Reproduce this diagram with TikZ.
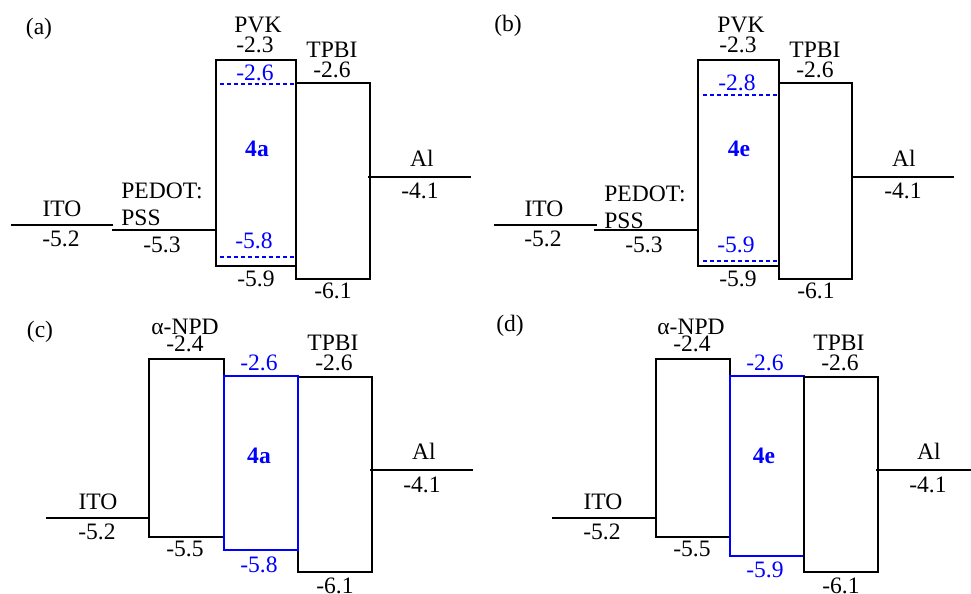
\documentclass[tikz,border=0pt]{standalone}
\usepackage{fontspec}
\setmainfont{Liberation Serif}
\newfontfamily\tnr{Liberation Serif}
\tikzset{
  lvl/.style={line width=1.2pt},
  band/.style={draw,line width=0.6pt},
  bband/.style={draw=blue,line width=0.6pt},
  hl/.style={blue,line width=0.6pt,dash pattern=on 2.4pt off 1.6pt},
  txt/.style={font=\tnr\fontsize{13.4}{15}\selectfont,inner sep=0pt},
  btxt/.style={txt,text=blue},
  tag/.style={txt,font=\tnr\fontsize{13.4}{15}\selectfont\bfseries,text=blue}
}
\begin{document}
\begin{tikzpicture}[x=0.02cm,y=-0.02cm]
\useasboundingbox (0,0) rectangle (971,594);
% (a) PVK:4a
\draw[lvl] (11,225) -- (113,225);
\draw[lvl] (112,230) -- (216,230);
\draw[lvl] (368,177) -- (471,177);
\draw[band] (216,60) rectangle (296,266);
\draw[band] (296,83) rectangle (370,279);
\draw[hl] (220,84) -- (294,84);
\draw[hl] (220,257) -- (294,257);
\foreach \n/\x/\y/\t in {lab/39/29/(a), pvk/258/25/PVK, pvkL/255/45/-2.3, tpbi/332/50/TPBI, tpbiL/332/70/-2.6, pvkH/256/279/-5.9, tpbiH/333/291/-6.1, al/422/158/Al, alW/420/191/-4.1, ito/62/209/ITO, itoW/61/239/-5.2, pedW/162/245/-5.3}
  \node[txt] (a\n) at (\x,\y) {\t};
\node[txt,align=left,anchor=north west] (aped) at (121,183) {PEDOT:\\PSS};
\foreach \n/\x/\y/\t in {h/255/73/-2.6, l/254/241/-5.8}
  \node[btxt] (ab\n) at (\x,\y) {\t};
\node[tag] (a4) at (257,149) {4a};
% (b) PVK:4e
\draw[lvl] (494,225) -- (597,225);
\draw[lvl] (594,230) -- (698,230);
\draw[lvl] (852,177) -- (954,177);
\draw[band] (698,60) rectangle (779,266);
\draw[band] (779,83) rectangle (852,279);
\draw[hl] (703,95) -- (777,95);
\draw[hl] (703,261) -- (777,261);
\foreach \n/\x/\y/\t in {lab/508/26/(b), pvk/741/25/PVK, pvkL/738/45/-2.3, tpbi/815/50/TPBI, tpbiL/815/70/-2.6, pvkH/738/279/-5.9, tpbiH/816/291/-6.1, al/904/158/Al, alW/903/191/-4.1, ito/544/209/ITO, itoW/543/239/-5.2, pedW/644/245/-5.3}
  \node[txt] (b\n) at (\x,\y) {\t};
\node[txt,align=left,anchor=north west] (bped) at (604,186) {PEDOT:\\PSS};
\foreach \n/\x/\y/\t in {h/737/83/-2.8, l/736/245/-5.9}
  \node[btxt] (bb\n) at (\x,\y) {\t};
\node[tag] (b4) at (739,149) {4e};
% (c) NPD/4a
\draw[lvl] (46,518) -- (149,518);
\draw[lvl] (370,470) -- (473,470);
\draw[band] (149,359) rectangle (224,537);
\draw[band] (298,377) rectangle (372,572);
\draw[bband] (224,376) rectangle (298,550);
\foreach \n/\x/\y/\t in {lab/40/332/(c), npd/185/327/α-NPD, npdL/185/344/-2.4, tpbi/333/343/TPBI, tpbiL/334/363/-2.6, al/424/451/Al, alW/422/485/-4.1, ito/98/502/ITO, itoW/97/532/-5.2, npdH/185/549/-5.5, tpbiH/335/586/-6.1}
  \node[txt] (c\n) at (\x,\y) {\t};
\foreach \n/\x/\y/\t in {h/259/363/-2.6, l/259/565/-5.8}
  \node[btxt] (cb\n) at (\x,\y) {\t};
\node[tag] (c4) at (259,456) {4a};
% (d) NPD/4e
\draw[lvl] (552,518) -- (656,518);
\draw[lvl] (876,470) -- (971,470);
\draw[band] (656,359) rectangle (730,537);
\draw[bband] (730,376) rectangle (804,556);
\draw[band] (804,377) rectangle (878,572);
\foreach \n/\x/\y/\t in {lab/510/326/(d), npd/691/327/α-NPD, npdL/692/344/-2.4, tpbi/839/343/TPBI, tpbiL/840/363/-2.6, al/929/451/Al, alW/928/485/-4.1, ito/603/502/ITO, itoW/602/532/-5.2, npdH/692/549/-5.5, tpbiH/841/586/-6.1}
  \node[txt] (d\n) at (\x,\y) {\t};
\foreach \n/\x/\y/\t in {h/765/363/-2.6, l/765/570/-5.9}
  \node[btxt] (db\n) at (\x,\y) {\t};
\node[tag] (d4) at (764,456) {4e};
\end{tikzpicture}
\end{document}
